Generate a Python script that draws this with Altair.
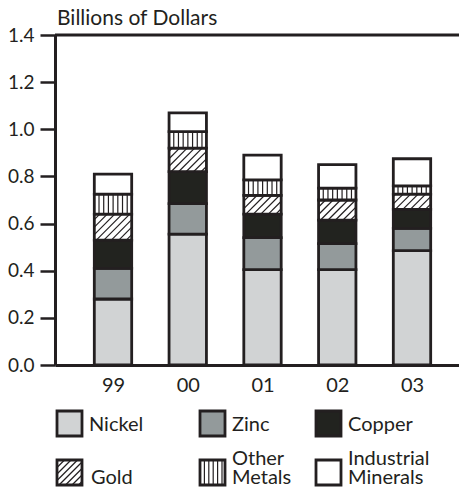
import json
import math
import altair as alt
import pandas as pd

# ---------------- data (billions of dollars) ----------------
years = ["99", "00", "01", "02", "03"]
categories = ["Nickel", "Zinc", "Copper", "Gold", "Other Metals", "Industrial Minerals"]
nickel = [0.28, 0.555, 0.405, 0.405, 0.485]
zinc = [0.13, 0.13, 0.135, 0.11, 0.095]
copper = [0.12, 0.135, 0.10, 0.10, 0.08]
gold = [0.11, 0.10, 0.08, 0.085, 0.065]
other_metals = [0.085, 0.07, 0.065, 0.05, 0.035]
industrial = [0.085, 0.08, 0.105, 0.10, 0.115]
y_ticks = [0.0, 0.2, 0.4, 0.6, 0.8, 1.0, 1.2, 1.4]

# ---------------- style / layout ----------------
colors = ["#d1d3d4", "#939a9b", "#22231f", "#ffffff", "#ffffff", "#ffffff"]
hatch = {"Gold": "diag", "Other Metals": "vert"}
INK = "#231f20"
FONT = "Lato"
W, H = 404, 330
YMAX = 1.4
BAR_HALF = 0.25
X_STEP = 74.75             # px between bar centres
X_CENTER0 = 58             # px from plot left to first bar centre
XMIN = -X_CENTER0 / X_STEP
XMAX = XMIN + W / X_STEP
PXY = H / YMAX


def ux(px):  # px from plot left -> data x
    return XMIN + px / X_STEP


def uy(py):  # px from plot top -> data y
    return YMAX - py / PXY


series = [nickel, zinc, copper, gold, other_metals, industrial]

# ---------------- stacked segments ----------------
rows = []
for i, yr in enumerate(years):
    base = 0.0
    for cat, vals in zip(categories, series):
        rows.append(dict(year=yr, cat=cat, x0=i - BAR_HALF, x1=i + BAR_HALF,
                         y0=base, y1=base + vals[i]))
        base += vals[i]
bars = pd.DataFrame(rows)


# ---------------- hatch line generators (in px, y up) ----------------
def diag_lines(xl, xr, yb, yt, step=7.5, phase=2.0):
    bw, bh = xr - xl, yt - yb
    out = []
    k = math.floor((-bh - phase) / step)
    while True:
        c = phase + k * step
        if c >= bw:
            break
        xs, xe = max(0.0, c), min(bw, bh + c)
        if xe - xs > 0.8:
            out.append((xl + xs, yb + xs - c, xl + xe, yb + xe - c))
        k += 1
    return out


def vert_lines(xl, xr, yb, yt, step=4.7):
    out = []
    k = 1
    while xl + k * step < xr - 2.0:
        x = xl + k * step
        out.append((x, yb, x, yt))
        k += 1
    return out


def to_data(lines):
    return [dict(hx0=ux(a), hy0=b / PXY, hx1=ux(c), hy1=d / PXY)
            for (a, b, c, d) in lines]


hatch_rows = []
for _, r in bars.iterrows():
    kind = hatch.get(r["cat"])
    if not kind:
        continue
    xl = (r["x0"] - XMIN) * X_STEP
    xr = (r["x1"] - XMIN) * X_STEP
    yb = r["y0"] * PXY
    yt = r["y1"] * PXY
    fn = diag_lines if kind == "diag" else vert_lines
    hatch_rows += to_data(fn(xl, xr, yb, yt))

# ---------------- legend (built from the category list) ----------------
col_left = [2, 145, 261]
row_top = [376, 425]
SW = 25
leg_rects, leg_text = [], []
for idx, cat in enumerate(categories):
    rrow, ccol = divmod(idx, 3)
    left, top = col_left[ccol], row_top[rrow]
    leg_rects.append(dict(cat=cat, x0=ux(left), x1=ux(left + SW),
                          y0=uy(top + SW), y1=uy(top)))
    kind = hatch.get(cat)
    if kind:
        fn = diag_lines if kind == "diag" else vert_lines
        lines = fn(left, left + SW, H - (top + SW), H - top,
                   **({"step": 6.5} if kind == "diag" else {"step": 4.4}))
        hatch_rows += to_data(lines)
    words = cat.split(" ")
    tx = left + SW + (9 if cat == "Gold" else 7)
    if rrow == 0:
        leg_text.append(dict(t=cat, x=ux(tx), y=uy(top + SW - 5)))
    else:
        bottom = top + SW - 1
        n = len(words)
        for j, w in enumerate(words):
            leg_text.append(dict(t=w, x=ux(tx), y=uy(bottom - (n - 1 - j) * 19)))

hatch_df = pd.DataFrame(hatch_rows)
leg_rect_df = pd.DataFrame(leg_rects)
leg_text_df = pd.DataFrame(leg_text)

# ---------------- chart ----------------
xscale = alt.Scale(domain=[XMIN, XMAX], nice=False, zero=False)
yscale = alt.Scale(domain=[0, YMAX], nice=False, zero=False)
color = alt.Color("cat:N", scale=alt.Scale(domain=categories, range=colors), legend=None)

label_expr = json.dumps(years) + "[round(datum.value)]"

bar_layer = alt.Chart(bars).mark_rect(stroke=INK, strokeWidth=2.8).encode(
    x=alt.X("x0:Q", scale=xscale,
            axis=alt.Axis(values=list(range(len(years))), labelExpr=label_expr,
                          ticks=False, domainWidth=3, domainColor=INK,
                          labelPadding=10, labelFont=FONT, labelFontSize=20,
                          labelColor=INK, grid=False, title=None)),
    x2="x1:Q",
    y=alt.Y("y0:Q", scale=yscale,
            axis=alt.Axis(values=y_ticks, format=".1f", tickSize=15, tickWidth=2.5,
                          tickColor=INK, domainColor=INK, domainWidth=3,
                          labelFont=FONT, labelFontSize=19, labelColor=INK,
                          labelPadding=6, grid=False, title=None)),
    y2="y1:Q",
    color=color,
)

hatch_layer = alt.Chart(hatch_df).mark_rule(color=INK, strokeWidth=1.2).encode(
    x=alt.X("hx0:Q", scale=xscale), x2="hx1:Q",
    y=alt.Y("hy0:Q", scale=yscale), y2="hy1:Q",
)

top_line = alt.Chart(pd.DataFrame({"v": [YMAX]})).mark_rule(
    color=INK, strokeWidth=3).encode(y=alt.Y("v:Q", scale=yscale))

leg_rect_layer = alt.Chart(leg_rect_df).mark_rect(stroke=INK, strokeWidth=2.8).encode(
    x=alt.X("x0:Q", scale=xscale), x2="x1:Q",
    y=alt.Y("y0:Q", scale=yscale), y2="y1:Q",
    color=color,
)

leg_text_layer = alt.Chart(leg_text_df).mark_text(
    align="left", baseline="alphabetic", font=FONT, fontSize=20, color=INK
).encode(x=alt.X("x:Q", scale=xscale), y=alt.Y("y:Q", scale=yscale), text="t:N")

title_layer = alt.Chart(pd.DataFrame({"t": ["Billions of Dollars"],
                                      "x": [ux(2)], "y": [uy(-10)]})).mark_text(
    align="left", baseline="alphabetic", font=FONT, fontSize=21, color=INK
).encode(x=alt.X("x:Q", scale=xscale), y=alt.Y("y:Q", scale=yscale), text="t:N")

chart = alt.layer(
    bar_layer, leg_rect_layer, hatch_layer, top_line, leg_text_layer, title_layer
).properties(
    width=W, height=H,
    padding={"left": 47, "top": 27, "right": 0, "bottom": 122},
    autosize=alt.AutoSizeParams(type="none"),
    background="white",
).configure_view(stroke=None)

chart.save("out.html", embed_options={"renderer": "svg", "actions": False})
